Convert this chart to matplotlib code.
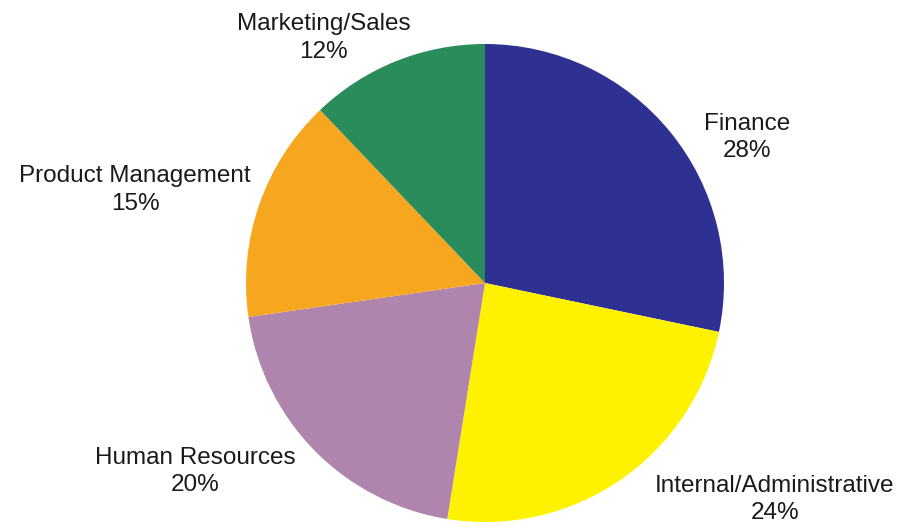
import matplotlib
matplotlib.use('Agg')
import matplotlib.pyplot as plt

# Share of staff by department
departments = ['Finance', 'Internal/Administrative', 'Human Resources',
               'Product Management', 'Marketing/Sales']
shares = [28, 24, 20, 15, 12]
colours = ['#2E3192', '#FFF200', '#B085AD', '#F6A61F', '#2A8C5A']

# Where each label block sits, in units of the pie radius
label_pos = [(1.096, 0.607), (1.213, -0.904), (-1.213, -0.787),
             (-1.464, 0.389), (-0.674, 1.025)]

plt.rcParams['font.family'] = ['Liberation Sans', 'DejaVu Sans']

W, H = 902, 527
cx, cy, r = 485, 283, 239

fig = plt.figure(figsize=(W / 100, H / 100), dpi=100)
ax = fig.add_axes([0, 0, 1, 1])

ax.pie(shares, colors=colours, startangle=90, counterclock=False,
       wedgeprops={'linewidth': 0})

for name, pct, (lx, ly) in zip(departments, shares, label_pos):
    ax.text(lx, ly, f'{name}\n{pct}%', ha='center', va='center',
            fontsize=17.5, color='#1a1a1a', linespacing=1.3)

# keep one data unit equal to one radius in pixels on both axes
ax.set_xlim(-cx / r, (W - cx) / r)
ax.set_ylim(-(H - cy) / r, cy / r)
ax.set_aspect('auto')
ax.axis('off')

fig.savefig('out.png', dpi=100, facecolor='white')
